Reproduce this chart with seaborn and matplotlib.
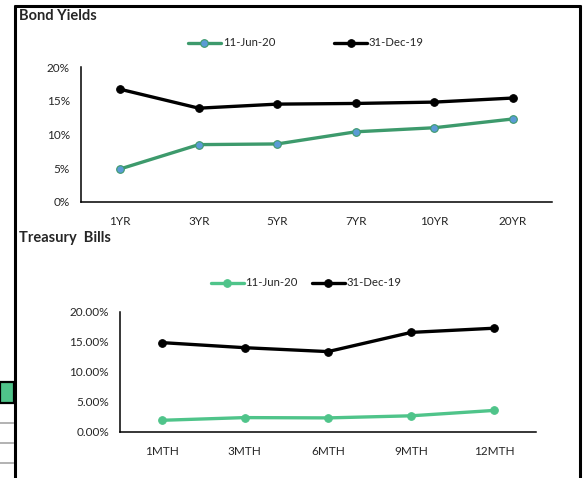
import pandas as pd
import seaborn as sns
from matplotlib import pyplot as plt
from matplotlib.lines import Line2D
from matplotlib.patches import Rectangle
from matplotlib.ticker import PercentFormatter, FixedLocator

bond_tenors = ['1YR', '3YR', '5YR', '7YR', '10YR', '20YR']
bond_jun20 = [4.9, 8.5, 8.6, 10.4, 11.0, 12.3]
bond_dec19 = [16.7, 13.9, 14.5, 14.6, 14.8, 15.4]

bill_tenors = ['1MTH', '3MTH', '6MTH', '9MTH', '12MTH']
bill_jun20 = [1.95, 2.4, 2.35, 2.7, 3.6]
bill_dec19 = [14.9, 14.05, 13.4, 16.6, 17.3]

series_names = ['11-Jun-20', '31-Dec-19']

W, H = 585, 478


def long_df(tenors, a, b):
    rows = []
    for name, vals in zip(series_names, [a, b]):
        for t, v in zip(tenors, vals):
            rows.append({'tenor': t, 'rate': v, 'date': name})
    return pd.DataFrame(rows)


def px_axes(fig, left, top, right, bottom):
    return fig.add_axes([left / W, 1 - bottom / H, (right - left) / W, (bottom - top) / H])


def style_axes(ax, n, decimals):
    ax.set_xlim(-0.5, n - 0.5)
    ax.set_ylim(0, 20)
    ax.set_yticks([0, 5, 10, 15, 20])
    ax.yaxis.set_major_formatter(PercentFormatter(xmax=100, decimals=decimals))
    ax.xaxis.set_major_locator(FixedLocator([i + 0.5 for i in range(n)]))
    ax.xaxis.set_minor_locator(FixedLocator(list(range(n))))
    ax.set_xticklabels([''] * n)
    ax.tick_params(axis='x', which='major', direction='in', length=4, width=1, color='#444444')
    ax.tick_params(axis='x', which='minor', length=0, pad=10, labelsize=8.5)
    ax.tick_params(axis='y', direction='in', length=4, width=1, pad=8, labelsize=8.5)
    for s in ['top', 'right']:
        ax.spines[s].set_visible(False)
    for s in ['left', 'bottom']:
        ax.spines[s].set_linewidth(1.1)
        ax.spines[s].set_color('black')
    ax.set_xlabel('')
    ax.set_ylabel('')
    ax.grid(False)


sns.set_theme(style='white')
plt.rcParams['font.family'] = ['Lato', 'DejaVu Sans']

fig = plt.figure(figsize=(W / 100, H / 100), dpi=100)

# Bond yields
ax1 = px_axes(fig, 81, 67, 552, 202)
df1 = long_df(bond_tenors, bond_jun20, bond_dec19)
sns.lineplot(data=df1, x='tenor', y='rate', hue='date', ax=ax1,
             palette={'11-Jun-20': '#3d9a6c', '31-Dec-19': 'black'},
             linewidth=2.4, legend=False, sort=False)
ax1.lines[0].set(marker='o', markersize=5.5, markerfacecolor='#5b9bd5', markeredgecolor='#3d9a6c', markeredgewidth=0.8)
ax1.lines[1].set(marker='o', markersize=5.5, markerfacecolor='black', markeredgecolor='black')
style_axes(ax1, len(bond_tenors), 0)
ax1.set_xticks(range(len(bond_tenors)), bond_tenors, minor=True)
ax1.legend(handles=[ax1.lines[0], ax1.lines[1]], labels=series_names, ncol=2,
           loc='center', bbox_to_anchor=(306 / W, 1 - 43 / H), bbox_transform=fig.transFigure,
           frameon=False, fontsize=8.2, handlelength=2.9, handletextpad=0.15, columnspacing=5.2)

# Treasury bills
ax2 = px_axes(fig, 120, 312, 536, 432)
df2 = long_df(bill_tenors, bill_jun20, bill_dec19)
sns.lineplot(data=df2, x='tenor', y='rate', hue='date', ax=ax2,
             palette={'11-Jun-20': '#4fc48a', '31-Dec-19': 'black'},
             linewidth=2.4, legend=False, sort=False)
ax2.lines[0].set(marker='o', markersize=5.5, markerfacecolor='#4fc48a', markeredgecolor='#4fc48a')
ax2.lines[1].set(marker='o', markersize=5.5, markerfacecolor='black', markeredgecolor='black')
style_axes(ax2, len(bill_tenors), 2)
ax2.set_xticks(range(len(bill_tenors)), bill_tenors, minor=True)
ax2.legend(handles=[ax2.lines[0], ax2.lines[1]], labels=series_names, ncol=2,
           loc='center', bbox_to_anchor=(306 / W, 1 - 283 / H), bbox_transform=fig.transFigure,
           frameon=False, fontsize=8.2, handlelength=2.9, handletextpad=0.15, columnspacing=1.2)

# titles
fig.text(19 / W, 1 - 16 / H, 'Bond Yields', fontsize=10.5, fontweight='bold', va='center', ha='left')
fig.text(19 / W, 1 - 238 / H, 'Treasury  Bills', fontsize=10.5, fontweight='bold', va='center', ha='left')

# surrounding box of the sheet
def fig_line(x0, y0, x1, y1, color='black', lw=2.2):
    fig.add_artist(Line2D([x0 / W, x1 / W], [1 - y0 / H, 1 - y1 / H], color=color, linewidth=lw,
                          transform=fig.transFigure, solid_capstyle='butt'))

fig_line(15, 5, 15, 478)
fig_line(14, 6, 581, 6)
fig_line(580, 5, 580, 478)

# spreadsheet cells on the left
fig.add_artist(Rectangle((0, 1 - 403 / H), 14 / W, 21 / H, transform=fig.transFigure,
                         facecolor='#4fc48a', edgecolor='black', linewidth=1.6))
for y in [423, 443, 463]:
    fig_line(0, y, 14, y, color='#a6a6a6', lw=1.2)

plt.savefig('out.png', dpi=100)
